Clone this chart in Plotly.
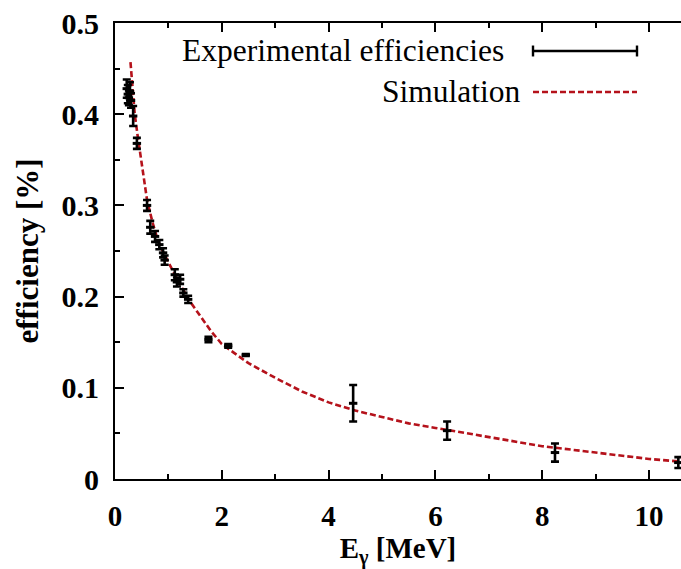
import plotly.graph_objects as go

# Experimental efficiencies (E in MeV, efficiency, symmetric error)
exp_E = [0.22, 0.24, 0.26, 0.28, 0.30, 0.34, 0.41, 0.60, 0.66, 0.75, 0.83, 0.90, 0.93,
         1.12, 1.16, 1.22, 1.28, 1.37, 1.75, 2.12, 2.45, 4.46, 6.22, 8.24, 10.55]
exp_eff = [0.428, 0.422, 0.418, 0.425, 0.415, 0.398, 0.368, 0.300, 0.276, 0.266, 0.257,
           0.248, 0.240, 0.224, 0.216, 0.219, 0.204, 0.197, 0.153, 0.146, 0.136,
           0.083, 0.053, 0.029, 0.018]
exp_err = [0.010, 0.010, 0.008, 0.010, 0.008, 0.011, 0.006, 0.006, 0.007, 0.006, 0.005,
           0.005, 0.005, 0.006, 0.005, 0.005, 0.004, 0.004, 0.003, 0.002, 0.001,
           0.020, 0.010, 0.010, 0.006]

# Simulation curve
sim_E = [0.29, 0.33, 0.37, 0.42, 0.47, 0.53, 0.6, 0.7, 0.8, 0.9, 1.0, 1.2, 1.4, 1.6, 1.8,
         2.0, 2.5, 3.0, 3.5, 4.0, 4.5, 5.0, 5.5, 6.0, 7.0, 8.0, 9.0, 10.0, 10.6]
sim_eff = [0.457, 0.425, 0.400, 0.378, 0.358, 0.330, 0.306, 0.282, 0.262, 0.249, 0.238,
           0.215, 0.195, 0.178, 0.162, 0.148, 0.127, 0.111, 0.096, 0.084, 0.075, 0.068,
           0.061, 0.056, 0.046, 0.036, 0.029, 0.022, 0.019]

x_ticks = [0, 2, 4, 6, 8, 10]
y_ticks = [0, 0.1, 0.2, 0.3, 0.4, 0.5]
y_labels = ["0", "0.1", "0.2", "0.3", "0.4", "0.5"]

RED = "#b5121b"
SERIF = "Liberation Serif"

fig = go.Figure()
fig.add_trace(go.Scatter(
    x=sim_E, y=sim_eff, mode="lines",
    line=dict(color=RED, width=2.6, dash="6px,3px"),
    showlegend=False, hoverinfo="skip"))
fig.add_trace(go.Scatter(
    x=exp_E, y=exp_eff, mode="markers",
    marker=dict(symbol="line-ew-open", size=6, color="black", line=dict(width=3, color="black")),
    error_y=dict(type="data", array=exp_err, color="black", thickness=2.6, width=4),
    showlegend=False))

# Legend (gnuplot style: text left, sample right)
fig.add_annotation(xref="paper", yref="paper", x=(506 - 115) / 566, y=1 - (50 - 23) / 456,
                   text="Experimental efficiencies", showarrow=False, xanchor="right",
                   yanchor="middle", font=dict(family=SERIF, size=31.5, color="black"))
fig.add_annotation(xref="paper", yref="paper", x=(523 - 115) / 566, y=1 - (92 - 23) / 456,
                   text="Simulation", showarrow=False, xanchor="right",
                   yanchor="middle", font=dict(family=SERIF, size=31.5, color="black"))
y1 = 1 - (51 - 23) / 456
y2 = 1 - (92 - 23) / 456
xa, xb = (533 - 115) / 566, (637 - 115) / 566
fig.add_shape(type="line", xref="paper", yref="paper", x0=xa, x1=xb, y0=y1, y1=y1,
              line=dict(color="black", width=2.4))
fig.add_shape(type="line", xref="paper", yref="paper", x0=xa, x1=xa, y0=y1 - 0.012, y1=y1 + 0.012,
              line=dict(color="black", width=2.4))
fig.add_shape(type="line", xref="paper", yref="paper", x0=xb, x1=xb, y0=y1 - 0.012, y1=y1 + 0.012,
              line=dict(color="black", width=2.4))
fig.add_shape(type="line", xref="paper", yref="paper", x0=xa, x1=xb, y0=y2, y1=y2,
              line=dict(color=RED, width=2.6, dash="6px,3px"))

fig.update_layout(
    width=681, height=569,
    margin=dict(l=115, r=0, t=23, b=90),
    paper_bgcolor="white", plot_bgcolor="white",
    font=dict(family=SERIF, color="black"),
    xaxis=dict(
        range=[0, 10.6], tickvals=x_ticks, ticktext=[str(v) for v in x_ticks],
        ticks="inside", ticklen=9, tickwidth=1.5, tickcolor="black",
        minor=dict(dtick=1, ticks="inside", ticklen=5, tickwidth=1.5, tickcolor="black"),
        showline=True, linecolor="black", linewidth=2, mirror="ticks",
        showgrid=False, zeroline=False, ticklabelstandoff=10,
        tickfont=dict(family=SERIF, size=29, color="black", weight="bold"),
        title=dict(text="E<sub>γ</sub> [MeV]", standoff=9,
                   font=dict(family=SERIF, size=29, color="black", weight="bold")),
    ),
    yaxis=dict(
        range=[0, 0.5], tickvals=y_ticks, ticktext=y_labels,
        ticks="inside", ticklen=9, tickwidth=1.5, tickcolor="black",
        minor=dict(dtick=0.05, ticks="inside", ticklen=5, tickwidth=1.5, tickcolor="black"),
        showline=True, linecolor="black", linewidth=2, mirror=False,
        showgrid=False, zeroline=False, ticklabelstandoff=8,
        tickfont=dict(family=SERIF, size=30, color="black", weight="bold"),
        title=dict(text="efficiency [%]", standoff=14,
                   font=dict(family=SERIF, size=31, color="black", weight="bold")),
    ),
)

fig.write_html("out.html")
